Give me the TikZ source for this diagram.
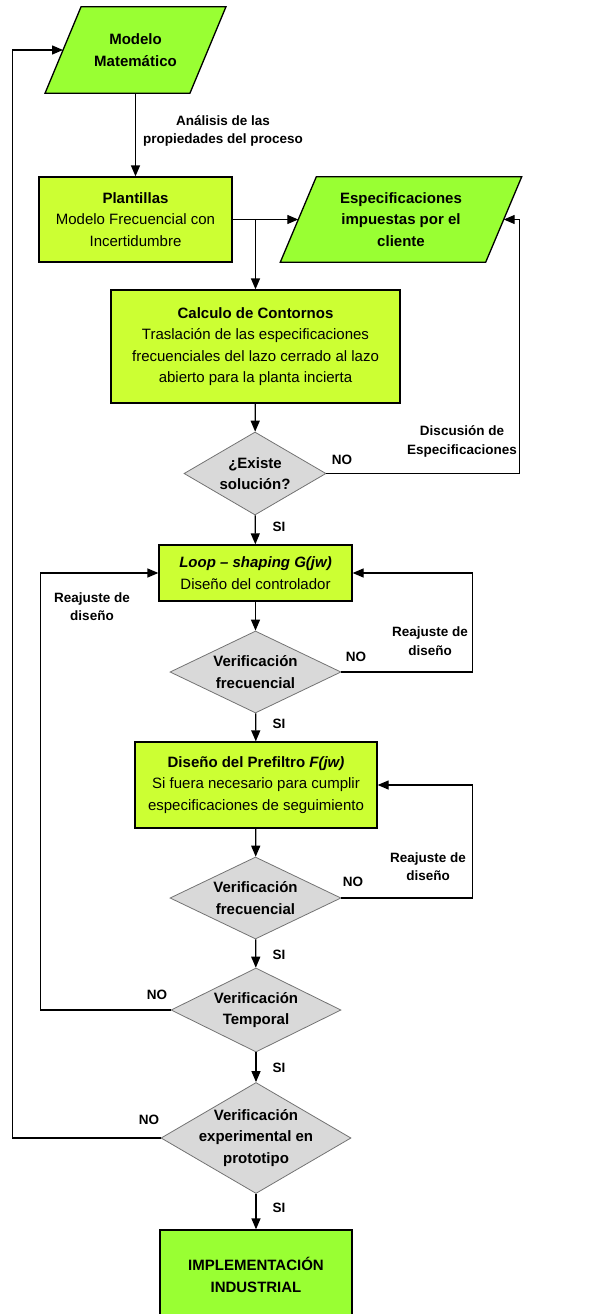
\documentclass[tikz,border=0pt]{standalone}
\usepackage{fontspec}
\setmainfont{Liberation Sans}
\usetikzlibrary{arrows.meta,shapes.geometric,backgrounds}

\definecolor{verdedato}{RGB}{153,255,51}
\definecolor{verdeproc}{RGB}{204,255,51}
\definecolor{grisdec}{RGB}{217,217,217}
\newcommand{\fuentecaja}{\fontsize{15}{21.5}\selectfont}
\newcommand{\fuenteetiq}{\fontsize{13.5}{18.5}\selectfont\bfseries}

\begin{document}
\begin{tikzpicture}[x=1pt,y=-1pt,
	flecha/.style={-{Triangle[length=11pt,width=9pt]}, line width=1.3pt},
	datos/.style={rectangle, inner sep=0pt, align=center, font=\fuentecaja\bfseries},
	paralelo/.style={draw, line width=1.3pt, fill=verdedato, line join=miter},
	proceso/.style={rectangle, draw, line width=1.3pt, fill=verdeproc,
		inner sep=0pt, align=center, font=\fuentecaja},
	decision/.style={diamond, draw=black!55, line width=0.8pt, fill=grisdec, inner sep=0pt},
	dtexto/.style={align=center, font=\fuentecaja\bfseries},
	etiq/.style={align=center, font=\fuenteetiq}]
	
	\useasboundingbox (0,0) rectangle (600,1314);
	
	% Entradas (paralelogramos)
	\node[datos, minimum width=144.5pt, minimum height=86pt] (modelo) at (135.5,50) {Modelo\\Matemático};
	\node[datos, minimum width=205pt, minimum height=85pt] (espec) at (401,219.5) {Especificaciones\\impuestas por el\\cliente};
	\begin{scope}[on background layer]
		\foreach \n in {modelo, espec} {
			\filldraw[paralelo] ([xshift=-18pt]\n.south west) -- ([xshift=18pt]\n.north west)
				-- ([xshift=18pt]\n.north east) -- ([xshift=-18pt]\n.south east) -- cycle;
		}
	\end{scope}
	
	% Bloques de proceso
	\node[proceso, minimum width=193pt, minimum height=85pt] (plantillas) at (135.5,219.5)
		{\textbf{Plantillas}\\Modelo Frecuencial con\\Incertidumbre};
	\node[proceso, minimum width=289pt, minimum height=113pt] (contornos) at (255.5,346.5)
		{\textbf{Calculo de Contornos}\\Traslación de las especificaciones\\frecuenciales del lazo cerrado al lazo\\abierto para la planta incierta};
	\node[proceso, minimum width=193pt, minimum height=56pt] (loop) at (255.5,573)
		{\textbf{\textit{Loop -- shaping G(jw)}}\\Diseño del controlador};
	\node[proceso, minimum width=242pt, minimum height=86pt] (prefiltro) at (256,785)
		{\textbf{Diseño del Prefiltro \textit{F(jw)}}\\Si fuera necesario para cumplir\\especificaciones de seguimiento};
	\node[proceso, fill=verdedato, minimum width=192pt, minimum height=90pt, font=\fuentecaja\bfseries] (implem) at (256,1275)
		{IMPLEMENTACIÓN\\INDUSTRIAL};
	
	% Decisiones
	\node[decision, minimum width=142pt, minimum height=83pt,
		label={[dtexto]center:{¿Existe\\solución?}}] (existe) at (255,473.5) {};
	\node[decision, minimum width=171pt, minimum height=82pt,
		label={[dtexto]center:{Verificación\\frecuencial}}] (verif1) at (255.5,672) {};
	\node[decision, minimum width=171pt, minimum height=82pt,
		label={[dtexto]center:{Verificación\\frecuencial}}] (verif2) at (255.5,898) {};
	\node[decision, minimum width=170pt, minimum height=84pt,
		label={[dtexto]center:{Verificación\\Temporal}}] (temporal) at (256,1010) {};
	\node[decision, minimum width=190pt, minimum height=111pt,
		label={[dtexto]center:{Verificación\\experimental en\\prototipo}}] (experim) at (256,1138) {};
	
	% Flujo principal
	\draw[flecha] (modelo) -- (plantillas);
	\draw[flecha] (plantillas.east) -- (espec);
	\draw[flecha] (plantillas.east -| contornos.north) -- (contornos.north);
	\draw[flecha] (contornos) -- (existe);
	\draw[flecha] (existe) -- (loop);
	\draw[flecha] (loop) -- (verif1);
	\draw[flecha] (verif1) -- (prefiltro);
	\draw[flecha] (prefiltro) -- (verif2);
	\draw[flecha] (verif2) -- (temporal);
	\draw[flecha] (temporal) -- (experim);
	\draw[flecha] (experim) -- (implem);
	
	% Realimentaciones
	\draw[flecha] (existe.east) -- ++(193,0) |- (espec.east);
	\draw[flecha] (verif1.east) -- ++(131,0) |- (loop.east);
	\draw[flecha] (verif2.east) -- ++(131,0) |- (prefiltro.east);
	\draw[flecha] (temporal.west) -- ++(-130,0) |- (loop.west);
	\draw[flecha] (experim.west) -- ++(-148,0) |- (modelo.west);
	
	% Etiquetas
	\node[etiq] (analisis) at (223,131) {Análisis de las\\propiedades del proceso};
	\node[etiq] (discusion) at (462,441.5) {Discusión de\\Especificaciones};
	\node[etiq] (reajuste1) at (430,641) {Reajuste de\\diseño};
	\node[etiq] (reajuste2) at (428,866.5) {Reajuste de\\diseño};
	\node[etiq] (reajuste3) at (92,606.5) {Reajuste de\\diseño};
	\foreach \x/\y/\nombre in {342/460/no1, 356/657/no2, 353/882/no3, 157/995/no4, 149/1120/no5} {
		\node[etiq] (\nombre) at (\x,\y) {NO};
	}
	\foreach \y/\nombre in {527/si1, 724/si2, 955/si3, 1068/si4, 1208/si5} {
		\node[etiq] (\nombre) at (279,\y) {SI};
	}
	
\end{tikzpicture}
\end{document}
